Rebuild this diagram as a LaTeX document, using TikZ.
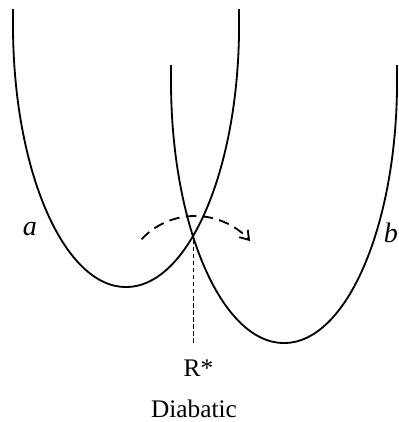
\documentclass[tikz,border=0pt]{standalone}
\usepackage{fontspec}
\setmainfont{Liberation Serif}
\usetikzlibrary{arrows.meta}
\tikzset{
  % Potential well curve
  well/.style={line width=1.3pt, black},
  % Hop between the curves
  hoparrow/.style={line width=1.3pt, black, dash pattern=on 7.5pt off 4.5pt,
    -{Straight Barb[length=6pt, width=8pt]}},
  guide/.style={line width=0.6pt, black, dash pattern=on 3pt off 2pt},
  curvelabel/.style={anchor=base, inner sep=0pt, font=\fontsize{20}{24}\selectfont\itshape},
  axislabel/.style={anchor=base, inner sep=0pt, font=\fontsize{18}{22}\selectfont}
}
\begin{document}
\begin{tikzpicture}[x=0.025cm, y=-0.025cm]
  \useasboundingbox (0,0) rectangle (399,422);

  % Left well (a)
  \draw[well] (13,9) -- (13,25)
    arc[start angle=180, end angle=360, x radius=2.825cm, y radius=6.55cm]
    -- (239,9);

  % Right well (b), same shape shifted
  \draw[well] (171,65) -- (171,81)
    arc[start angle=180, end angle=360, x radius=2.825cm, y radius=6.55cm]
    -- (397,65);

  % Crossing point and its foot
  \coordinate (cross) at (193,233);
  \coordinate (foot) at (193,343);
  \coordinate (hopstart) at (141.6,239.2);

  \draw[guide] (cross) -- (foot);
  \draw[hoparrow] (hopstart) arc[start angle=137, end angle=41, radius=1.825cm];

  % Labels
  \node[curvelabel] (a) at (30,235) {a};
  \node[curvelabel] (b) at (391,242) {b};
  \node[axislabel] (rstar) at (198.5,376) {R*};
  \node[axislabel] (diab) at (194,417) {Diabatic};
\end{tikzpicture}
\end{document}
